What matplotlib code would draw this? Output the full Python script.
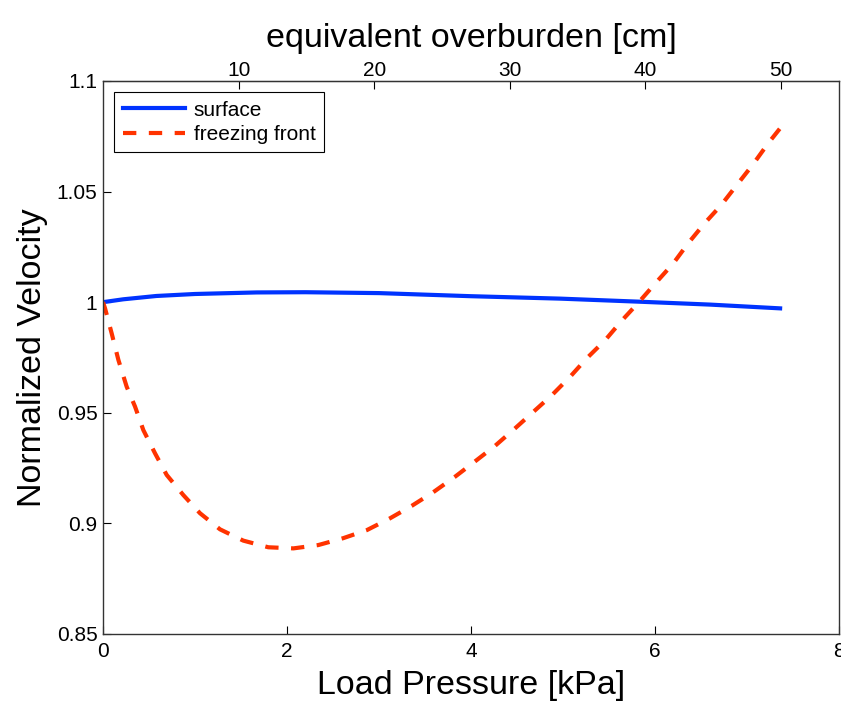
"""
Normalized velocity vs load pressure, with equivalent overburden on top axis
"""

import matplotlib
matplotlib.use('Agg')
import matplotlib.pyplot as plt

plt.rcParams['font.family'] = ['Liberation Sans', 'DejaVu Sans']

# kPa per cm of overburden
KPA_PER_CM = 0.1474

surface_p = [0, 0.22, 0.58, 1.0, 1.67, 2.2, 3.0, 4.0, 4.97, 5.84, 6.6, 7.36]
surface_v = [1.0, 1.0013, 1.0028, 1.0037, 1.0044, 1.0045, 1.0041, 1.0027,
             1.0016, 1.0002, 0.9989, 0.9972]

front_p = [0, 0.022, 0.094, 0.167, 0.257, 0.348, 0.438, 0.565, 0.692,
           0.873, 1.054, 1.272, 1.525, 1.797, 2.07, 2.34, 2.61, 2.87,
           3.12, 3.355, 3.59, 3.83, 4.04, 4.26, 4.48, 4.68, 4.88, 5.08,
           5.26, 5.46, 5.64, 5.82, 6.01, 6.20, 6.36, 6.54, 6.72, 6.89,
           7.06, 7.23, 7.36]
front_v = [1.0, 0.9972, 0.9859, 0.9739, 0.9618, 0.9528, 0.9422, 0.9317,
           0.9219, 0.9128, 0.9046, 0.8973, 0.8922, 0.8892, 0.8887, 0.8902,
           0.8933, 0.8970, 0.9023, 0.9079, 0.9141, 0.9212, 0.9279, 0.9350,
           0.9430, 0.9505, 0.9580, 0.9664, 0.9747, 0.9829, 0.9917, 0.9998,
           1.0088, 1.0176, 1.0266, 1.0357, 1.0439, 1.0530, 1.0620, 1.0718,
           1.0786]

x_ticks = [0, 2, 4, 6, 8]
y_ticks = [0.85, 0.9, 0.95, 1.0, 1.05, 1.1]
y_labels = ['0.85', '0.9', '0.95', '1', '1.05', '1.1']
cm_ticks = [10, 20, 30, 40, 50]

fig = plt.figure(figsize=(8.41, 7.01), dpi=100)
ax = fig.add_axes([0.1225, 0.0956, 0.8751, 0.7889])

ax.plot(surface_p, surface_v, color='#0033ff', linewidth=3, label='surface')
ax.plot(front_p, front_v, color='#ff3300', linewidth=3,
        dashes=(3.2, 3.0), label='freezing front')

ax.set_xlim(0, 8)
ax.set_ylim(0.85, 1.1)
ax.set_xticks(x_ticks)
ax.set_yticks(y_ticks)
ax.set_yticklabels(y_labels)
ax.tick_params(direction='in', length=6, width=0.8, labelsize=15, pad=4)
ax.tick_params(axis='x', pad=6)
for s in ax.spines.values():
    s.set_linewidth(1.0)
    s.set_color('#333333')

ax.set_xlabel('Load Pressure [kPa]', fontsize=24.5, labelpad=6)
ax.set_ylabel('Normalized Velocity', fontsize=24.5, labelpad=6)

# top axis in cm of equivalent overburden
top = ax.secondary_xaxis('top', functions=(lambda p: p / KPA_PER_CM,
                                           lambda c: c * KPA_PER_CM))
top.set_xticks(cm_ticks)
top.tick_params(direction='in', length=6, width=0.8, labelsize=15, pad=1)
top.set_xlabel('equivalent overburden [cm]', fontsize=24.5, labelpad=10)

leg = ax.legend(loc='upper left', fontsize=15, handlelength=3.0,
                fancybox=False, framealpha=1, edgecolor='black',
                borderaxespad=0.55, handletextpad=0.4, labelspacing=0.25,
                borderpad=0.4)
leg.get_frame().set_linewidth(0.8)

plt.savefig('out.png', dpi=100)
plt.close()
